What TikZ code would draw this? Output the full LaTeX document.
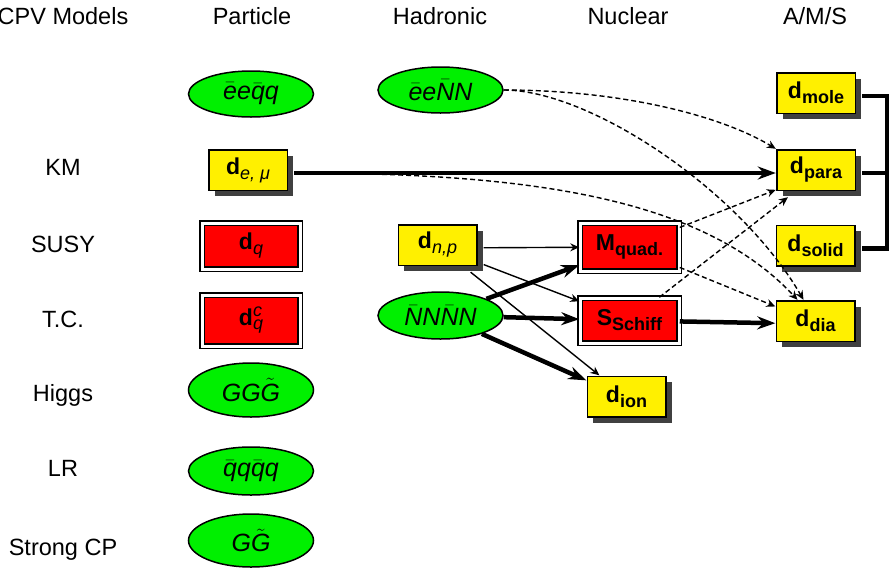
\documentclass[tikz,border=0pt]{standalone}
\usepackage{fontspec}
\setmainfont{Liberation Sans}
\usetikzlibrary{shapes.geometric,arrows.meta,shadows}

\definecolor{nodegreen}{RGB}{0,240,0}
\definecolor{nodeyellow}{RGB}{255,240,0}
\definecolor{nodered}{RGB}{255,0,0}

\newcommand\bsub[2]{\textbf{#1}\raisebox{-5pt}{\fontsize{18}{18}\selectfont #2}}
\newcommand\ob[1]{$\bar{\mbox{\textit{#1}}}$}
\newcommand\wt[1]{$\tilde{\mbox{\textit{#1}}}$}

\begin{document}
\begin{tikzpicture}[x=1pt,y=-1pt,
  hdr/.style={font=\fontsize{23.5}{28}\selectfont, anchor=base, inner sep=0pt},
  ell/.style={ellipse, draw=black, line width=1.5pt, fill=nodegreen, minimum width=125pt, inner sep=0pt, font=\fontsize{25}{30}\selectfont\itshape},
  ybox/.style={rectangle, draw=black, line width=1.5pt, fill=nodeyellow, minimum width=78.5pt, minimum height=40.5pt, inner sep=0pt, font=\fontsize{23}{26}\selectfont, drop shadow={shadow xshift=6pt, shadow yshift=-6pt, fill=black!75, opacity=1}},
  hull/.style={rectangle, minimum width=86pt, minimum height=48pt, inner sep=0pt},
  rbox/.style={rectangle, draw=black, line width=1.5pt, double=white, double distance=3pt, fill=nodered, inner sep=0pt, font=\fontsize{23}{26}\selectfont},
  thinarrow/.style={line width=1.4pt, -{Stealth[length=9pt,width=8pt,inset=3pt]}},
  thickarrow/.style={line width=4.5pt, -{Stealth[length=18pt,width=13pt,inset=6pt]}},
  dasharrow/.style={line width=1.4pt, dash pattern=on 5pt off 3pt, -{Stealth[length=9pt,width=8pt,inset=3pt]}},
  bracketline/.style={line width=4.5pt}
]
\useasboundingbox (0,0) rectangle (891,568);

% headers
\node[hdr] (hcpv) at (63,24) {CPV Models};
\node[hdr] (hpart) at (252,24) {Particle};
\node[hdr] (hhad) at (440,24) {Hadronic};
\node[hdr] (hnuc) at (628,24) {Nuclear};
\node[hdr] (hams) at (815,24) {A/M/S};

% row labels
\node[hdr] (rkm) at (63,175) {KM};
\node[hdr] (rsusy) at (63,252) {SUSY};
\node[hdr] (rtc) at (63,327) {T.C.};
\node[hdr] (rhiggs) at (63,401) {Higgs};
\node[hdr] (rlr) at (63,476) {LR};
\node[hdr] (rscp) at (63,555) {Strong CP};

% particle column
\node[ell, minimum height=46pt] (eeqq) at (251,94) {\ob{e}e\ob{q}q};
\node[ybox] (dem) at (248,170) {\bsub{d}{\itshape e, μ}};
\node[rbox, minimum width=98pt, minimum height=46pt] (dq) at (251,246) {\bsub{d}{\itshape q}};
\node[rbox, minimum width=98pt, minimum height=51pt] (dqc) at (251,320.5) {\textbf{d}\rlap{\raisebox{9pt}{\fontsize{18}{18}\selectfont\itshape c}}\raisebox{-4pt}{\fontsize{18}{18}\selectfont\itshape q}};
\node[ell, minimum height=54pt] (ggg) at (251,390) {GG\wt{G}};
\node[ell, minimum height=48pt] (qqqq) at (251,471) {\ob{q}q\ob{q}q};
\node[ell, minimum height=53pt] (gg) at (251,540.5) {G\wt{G}};

% hadronic column
\node[ell, minimum height=46pt] (eeNN) at (440.5,90) {\ob{e}e\ob{N}N};
\node[ybox] (dnp) at (437.5,245) {\bsub{d}{\itshape n,p}};
\node[ell, minimum height=47pt] (NNNN) at (440.5,315.5) {\ob{N}N\ob{N}N};

% nuclear column
\node[rbox, minimum width=99pt, minimum height=48pt] (Mquad) at (629.5,247) {\bsub{M}{\bfseries quad.}};
\node[rbox, minimum width=99pt, minimum height=45pt] (SSchiff) at (629.5,320.5) {\bsub{S}{\bfseries Schiff}};
\node[ybox] (dion) at (626.5,396.5) {\bsub{d}{\bfseries ion}};

% A/M/S column
\node[ybox] (dmole) at (816,93) {\bsub{d}{\bfseries mole}};
\node[ybox] (dpara) at (816,170) {\bsub{d}{\bfseries para}};
\node[ybox] (dsolid) at (815.5,245.5) {\bsub{d}{\bfseries solid}};
\node[ybox] (ddia) at (815.5,321) {\bsub{d}{\bfseries dia}};

% hulls (box + shadow)
\node[hull] (Hem) at (251,173) {};
\node[hull] (Hnp) at (440.5,248) {};
\node[hull] (Hion) at (629.5,399.5) {};
\node[hull] (Hmole) at (819,96) {};
\node[hull] (Hpara) at (819,173) {};
\node[hull] (Hsolid) at (818.5,248.5) {};
\node[hull] (Hdia) at (818.5,324) {};

% solid connectors
\draw[thickarrow] (Hem) -- (Hpara);
\draw[thinarrow] (Hnp) -- (Mquad);
\draw[thinarrow] (Hnp) -- (SSchiff);
\draw[thinarrow] (Hnp) -- (Hion);
\draw[thickarrow] (NNNN) -- (Mquad);
\draw[thickarrow] (NNNN) -- (SSchiff);
\draw[thickarrow] (NNNN) -- (Hion);
\draw[thickarrow] (SSchiff) -- (Hdia);

% dashed connectors
\draw[dasharrow] (Mquad) -- (Hpara);
\draw[dasharrow] (Mquad) -- (Hdia);
\draw[dasharrow] (SSchiff) -- (Hpara);
\draw[dasharrow] (eeNN.east) .. controls (620,90) and (720,115) .. (Hpara.north west);
\draw[dasharrow] (eeNN.east) .. controls (590,90) and (740,190) .. ([xshift=-15pt]Hdia.north);
\draw[dasharrow] (Hem.east) .. controls (520,173) and (700,195) .. ([xshift=-21pt]Hdia.north);

% bracket
\coordinate (brx) at (887,0);
\draw[bracketline] (Hmole.east) -- (Hmole.east -| brx) -- (Hsolid.east -| brx) -- (Hsolid.east);
\draw[bracketline] (Hpara.east) -- (Hpara.east -| brx);
\end{tikzpicture}
\end{document}
